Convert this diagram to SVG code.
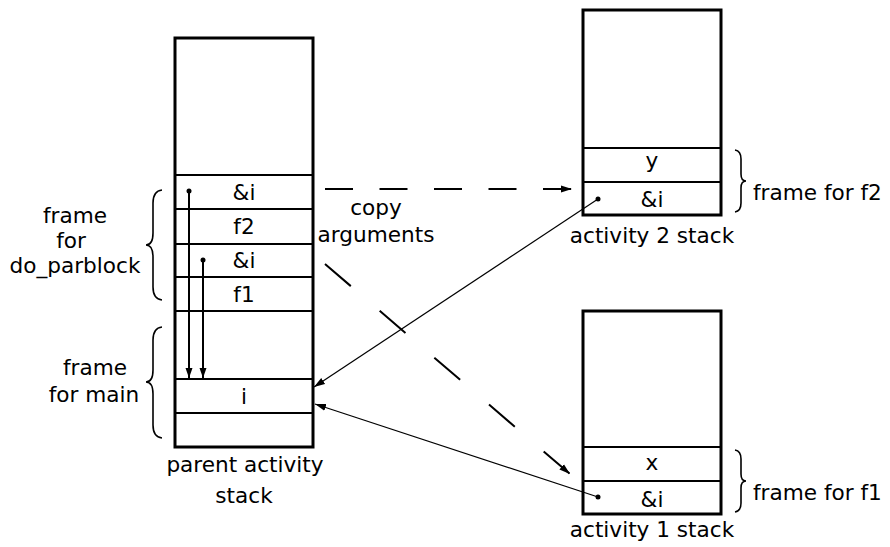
<svg xmlns="http://www.w3.org/2000/svg" width="890" height="547" viewBox="0 0 890 547">
<style>
text{font-family:"DejaVu Sans","Liberation Sans",sans-serif;font-size:21.6px;fill:#000}
.c{text-anchor:middle}
.box{fill:#fff;stroke:#000;stroke-width:3}
.row{stroke:#000;stroke-width:2}
.brace{fill:none;stroke:#000;stroke-width:1.6}
.thin{fill:none;stroke:#000;stroke-width:1.2}
.dash{fill:none;stroke:#000;stroke-width:2}
.vert{fill:none;stroke:#000;stroke-width:2}
</style>
<defs>
<marker id="ah" markerUnits="userSpaceOnUse" markerWidth="12" markerHeight="8" refX="11" refY="4" orient="auto"><path d="M0,0.5 L11,4 L0,7.5 z" fill="#000"/></marker>
<marker id="av" markerUnits="userSpaceOnUse" markerWidth="10" markerHeight="8" refX="10" refY="4" orient="auto"><path d="M0,0.5 L10,4 L0,7.5 z" fill="#000"/></marker>
</defs>

<g id="parent-stack">
<rect class="box" x="175" y="38" width="138" height="409"/>
<line class="row" x1="175" y1="175" x2="313" y2="175"/>
<line class="row" x1="175" y1="209" x2="313" y2="209"/>
<line class="row" x1="175" y1="244" x2="313" y2="244"/>
<line class="row" x1="175" y1="277" x2="313" y2="277"/>
<line class="row" x1="175" y1="311" x2="313" y2="311"/>
<line class="row" x1="175" y1="379" x2="313" y2="379"/>
<line class="row" x1="175" y1="413" x2="313" y2="413"/>
<text class="c" x="244" y="200">&amp;i</text>
<text class="c" x="244" y="234">f2</text>
<text class="c" x="244" y="268">&amp;i</text>
<text class="c" x="244" y="302">f1</text>
<text class="c" x="244" y="404">i</text>
<text class="c" x="245" y="472">parent activity</text>
<text class="c" x="244" y="503">stack</text>
</g>

<g id="brace-doparblock">
<path class="brace" d="M162,190 Q153,191 153,203 L153,233 Q153,245 146,245 Q153,245 153,257 L153,287 Q153,299 162,300"/>
<text class="c" x="75" y="223">frame</text>
<text class="c" x="71" y="248">for</text>
<text class="c" x="75" y="273">do_parblock</text>
</g>

<g id="brace-main">
<path class="brace" d="M162,327 Q153,328 153,340 L153,370 Q153,382 146,382 Q153,382 153,394 L153,425 Q153,437 162,438"/>
<text class="c" x="95" y="375">frame</text>
<text class="c" x="94" y="402">for main</text>
</g>

<g id="activity2-stack">
<rect class="box" x="583" y="10" width="138" height="205"/>
<line class="row" x1="583" y1="148" x2="721" y2="148"/>
<line class="row" x1="583" y1="182" x2="721" y2="182"/>
<text class="c" x="652" y="168">y</text>
<text class="c" x="652" y="207">&amp;i</text>
<text class="c" x="652" y="243">activity 2 stack</text>
<path class="brace" d="M735,150 Q741,151 741,159 L741,174 Q741,181 746,181 Q741,181 741,188 L741,203 Q741,211 735,212"/>
<text x="753" y="200">frame for f2</text>
</g>

<g id="activity1-stack">
<rect class="box" x="583" y="311" width="138" height="203"/>
<line class="row" x1="583" y1="447" x2="721" y2="447"/>
<line class="row" x1="583" y1="481" x2="721" y2="481"/>
<text class="c" x="652" y="470">x</text>
<text class="c" x="652" y="507">&amp;i</text>
<text class="c" x="652" y="537">activity 1 stack</text>
<path class="brace" d="M735,450 Q741,451 741,459 L741,474 Q741,481 746,481 Q741,481 741,488 L741,503 Q741,511 735,512"/>
<text x="753" y="500">frame for f1</text>
</g>

<g id="label-copy">
<text class="c" x="376" y="215">copy</text>
<text class="c" x="376" y="242">arguments</text>
</g>

<g id="connectors">
<line class="vert" x1="189" y1="191" x2="189" y2="378" marker-end="url(#av)"/>
<circle cx="189" cy="191" r="2.5"/>
<line class="vert" x1="203" y1="260" x2="203" y2="378" marker-end="url(#av)"/>
<circle cx="203" cy="260" r="2.5"/>
<line class="dash" x1="325" y1="189" x2="572" y2="189" stroke-dasharray="28 26.5" marker-end="url(#ah)"/>
<line class="dash" x1="325" y1="264" x2="570" y2="474" stroke-dasharray="34 38" marker-end="url(#ah)"/>
<line class="thin" x1="598" y1="199" x2="314" y2="387" marker-end="url(#ah)"/>
<circle cx="598" cy="199" r="2.5"/>
<line class="thin" x1="598" y1="497" x2="315" y2="404" marker-end="url(#ah)"/>
<circle cx="598" cy="497" r="2.5"/>
</g>
</svg>
